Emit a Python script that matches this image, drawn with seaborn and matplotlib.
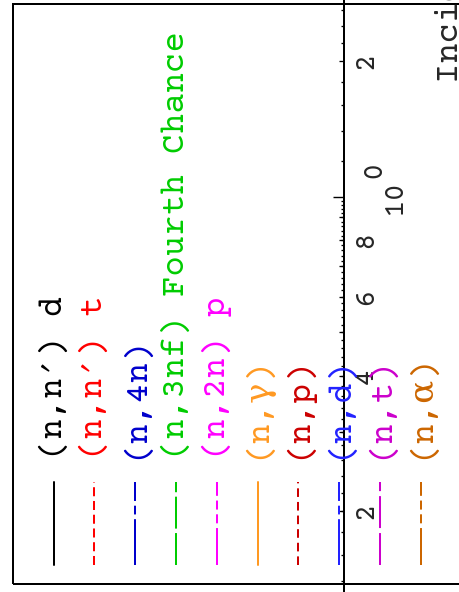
import numpy as np
import pandas as pd
import matplotlib
matplotlib.use('Agg')
import matplotlib.pyplot as plt
import seaborn as sns
from matplotlib.ticker import FixedLocator, FixedFormatter, NullFormatter

# legend entries
reactions = ["(n,n′) d", "(n,n′) t", "(n,4n)", "(n,3nf) Fourth Chance", "(n,2n) p",
             "(n,γ)", "(n,p)", "(n,d)", "(n,t)", "(n,α)"]
colors = ["#000000", "#FF0000", "#0000CC", "#00CC00", "#FF00FF",
          "#FF9922", "#CC0000", "#2222FF", "#CC00CC", "#CC6600"]
dash_list = ["", (6.5, 3.4), (33, 3.4, 6.3, 3.4), (23, 3.2), (26.6, 3.4, 6.5, 3.4, 6.5, 3.4),
             "", (6.2, 3.6), (33, 3.4, 6.3, 3.4), (23, 3.6), (26.6, 3.4, 6.5, 3.4, 6.5, 3.4)]

# energy axis (log), tick values and labels
e_lim = (0.1323, 2.737)
e_major = [1.0]
e_labeled = [0.2, 0.3, 0.4, 0.5, 0.6, 0.7, 0.8, 0.9, 2.0]
e_labels = ["2", "", "4", "", "6", "", "8", "", "2"]
e_minor = list(np.round(np.arange(0.14, 1.0, 0.02), 2)) + [1.2, 1.4, 1.6, 1.8, 2.2, 2.4, 2.6]
x_label = "Incident Energy (MeV)"

sns.set_style("white")
plt.rcParams['font.family'] = ['Courier Prime', 'DejaVu Serif']
plt.rcParams['lines.scale_dashes'] = False

W, H = 459, 592
fig = plt.figure(figsize=(W / 100, H / 100), dpi=100)

def px(v):
    return v * 0.72

# page frame
fig.add_artist(plt.Rectangle((13 / W, 8 / H), 1.2, 580 / H, transform=fig.transFigure,
                             fill=False, lw=px(2), ec='black'))

# energy axis drawn vertically
ax = fig.add_axes([0, 0, 344 / W, 1])
ax.patch.set_visible(False)
ax.set_yscale('log')
ax.set_ylim(*e_lim)
ax.set_xticks([])
for s in ['top', 'bottom', 'left']:
    ax.spines[s].set_visible(False)
ax.spines['right'].set_linewidth(px(2))
ax.spines['right'].set_color('black')
ax.yaxis.tick_right()
ax.yaxis.set_major_locator(FixedLocator(e_major))
ax.yaxis.set_major_formatter(NullFormatter())
ax.yaxis.set_minor_locator(FixedLocator(e_minor))
ax.yaxis.set_minor_formatter(NullFormatter())
ax.tick_params(axis='y', which='major', direction='in', length=px(10.7), width=px(1.4), color='black')
ax.tick_params(axis='y', which='minor', direction='in', length=px(3.5), width=px(1.3), color='black')

ax2 = fig.add_axes([0, 0, 344 / W, 1])
ax2.patch.set_visible(False)
ax2.set_yscale('log')
ax2.set_ylim(*e_lim)
ax2.set_xticks([])
for s in ax2.spines.values():
    s.set_visible(False)
ax2.yaxis.tick_right()
ax2.yaxis.set_major_locator(FixedLocator(e_labeled))
ax2.yaxis.set_major_formatter(FixedFormatter(e_labels))
ax2.yaxis.set_minor_locator(FixedLocator([]))
ax2.tick_params(axis='y', which='major', direction='in', length=px(5.5), width=px(1.3),
                color='black', labelsize=21, labelrotation=90, pad=px(9))

ax.annotate("10", xy=(1, 1.0), xycoords=('axes fraction', 'data'), xytext=(px(57), 0),
            textcoords='offset points', rotation=90, rotation_mode='anchor',
            ha='center', va='baseline', fontsize=21)
ax.annotate("0", xy=(1, 1.0), xycoords=('axes fraction', 'data'), xytext=(px(36), px(27)),
            textcoords='offset points', rotation=90, rotation_mode='anchor',
            ha='center', va='baseline', fontsize=21)

fig.text(458 / W, (H - 83) / H, x_label, rotation=90, rotation_mode='anchor',
         ha='left', va='baseline', fontsize=24.5)

# legend, drawn rotated
lx0, step = 53.5, 40.8
lax = fig.add_axes([(lx0 - step / 2) / W, (H - 565) / H, step * 10 / W, 83 / H])
lax.set_xlim(-0.5, 9.5)
lax.set_ylim(0, 1)
lax.axis('off')

df = pd.DataFrame({
    'entry': np.repeat(np.arange(len(reactions)), 2),
    'y': np.tile([0, 1], len(reactions)),
    'reaction': np.repeat(reactions, 2),
})
sns.lineplot(data=df, x='entry', y='y', hue='reaction', style='reaction',
             hue_order=reactions, style_order=reactions,
             palette=dict(zip(reactions, colors)), dashes=dict(zip(reactions, dash_list)),
             estimator=None, sort=False, legend=False, linewidth=px(2), ax=lax)
for line in lax.lines:
    line.set_clip_on(False)

for i, (lab, c) in enumerate(zip(reactions, colors)):
    lax.annotate(lab, xy=(i, 1), xytext=(px(8), px(23)), textcoords='offset points',
                 rotation=90, rotation_mode='anchor', ha='left', va='baseline',
                 fontsize=24.5, color=c, annotation_clip=False)

fig.savefig('out.png', dpi=100)
